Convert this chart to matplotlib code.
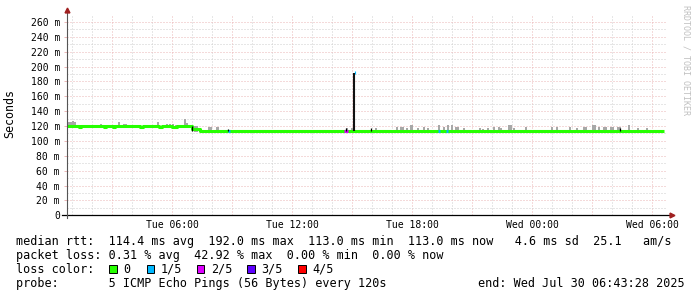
import matplotlib
matplotlib.use("Agg")
import matplotlib.pyplot as plt
from matplotlib.patches import Rectangle
import numpy as np

# time axis: hours since Tue 00:00, values in ms
median_hours = [0.75, 1.35, 1.45, 2.6, 2.7, 3.05, 3.15, 4.4, 4.55, 5.35, 5.5,
                6.0, 6.25, 7.0, 7.4, 30.6]
median_ms = [119.5, 118.3, 119.5, 118.3, 119.5, 118.3, 119.5, 118.3, 119.5, 118.3, 119.5,
             118.3, 119.5, 115.5, 113.0, 113.0]

smoke_hours = [0.85, 0.95, 1.05, 1.15, 1.25, 2.45, 2.55, 3.18, 3.35, 3.6, 3.7, 4.25,
               4.35, 5.3, 5.6, 5.75, 5.9, 6.05, 6.2, 6.65, 6.75,
               7.15, 7.25, 7.45, 7.85, 7.95, 8.25, 8.3, 14.75, 15.0, 16.2, 17.25,
               17.45, 17.55, 17.75, 17.95, 18.0, 18.3, 18.6, 18.8, 19.35, 19.6,
               19.8, 20.0, 20.2, 20.3, 20.6, 21.4, 21.55, 21.8, 22.1, 22.35, 22.45,
               22.85, 22.95, 23.1, 23.7, 25.0, 25.25, 25.9, 26.25, 26.6, 26.7,
               27.05, 27.15, 27.35, 27.6, 27.7, 27.95, 28.05, 28.3, 28.4, 28.85,
               29.3, 29.75]
smoke_top_ms = [126, 125, 127, 126, 122, 123, 122, 121.5, 125.5, 123, 123, 121,
                121.5, 125.5, 122, 123, 122.5, 123, 122, 129.5, 124,
                120.5, 120.5, 116, 119, 119, 118.5, 118.5, 117, 117, 117, 118.4,
                119, 119, 117, 121.4, 121, 117, 119, 117, 121.4, 119,
                121.4, 121.4, 119, 119, 117, 117, 116, 117, 119, 118.4, 117,
                121.4, 121.4, 117, 119, 119, 119, 118.4, 117, 118.4, 118.4,
                121.4, 121, 119, 119, 119, 119, 119, 119, 119, 121.4,
                117, 117]

loss_hours = [8.85, 14.68, 14.76, 19.35, 19.75]
loss_level = [1, 2, 2, 1, 1]

black_hours = [7.0, 8.8, 14.72, 15.95, 28.4]
black_top_ms = [119.5, 116, 117, 118, 117]

spike_hour = 15.1
spike_ms = 192.0

loss_labels = ["0", "1/5", "2/5", "3/5", "4/5"]
loss_colors = ["#26ff00", "#00b8ff", "#dd00ff", "#5e00ff", "#ff0000"]

tick_hours = [6, 12, 18, 24, 30]
tick_labels = ["Tue 06:00", "Tue 12:00", "Tue 18:00", "Wed 00:00", "Wed 06:00"]
y_ticks = list(range(0, 261, 20))

W, H = 697, 297
mono = "DejaVu Sans Mono"

fig = plt.figure(figsize=(W / 100, H / 100), dpi=100)
fig.patch.set_facecolor("white")
ax = fig.add_axes([66.5 / W, (H - 215.3) / H, 600.5 / W, 200.8 / H])
ax.set_xlim(0.725, 30.75)
ax.set_ylim(0, 270)

# grid (red major, gray minor)
red_grid = "#ebb6b6"
gray_grid = "#cfcfcf"
for h in range(1, 31):
    c = red_grid if h % 3 == 0 else gray_grid
    ax.axvline(h, color=c, lw=0.72, ls=(0, (1, 2)), zorder=0)
for v in range(10, 270, 10):
    c = red_grid if v % 20 == 0 else gray_grid
    ax.axhline(v, color=c, lw=0.72, ls=(0, (1, 2)), zorder=0)

# smoke
smoke_h = np.array(smoke_hours)
base = np.where(smoke_h < 7.0, 118.5, 112.0)
ax.bar(smoke_h, np.array(smoke_top_ms) - base, bottom=base, width=0.1,
       color="#a8a8a8", linewidth=0, zorder=2)

# median line
ax.plot(median_hours, median_ms, drawstyle="steps-post", color=loss_colors[0],
        lw=2.2, solid_capstyle="butt", zorder=3)

# loss coloured pieces of the median
for h, lv in zip(loss_hours, loss_level):
    ax.hlines(113.0, h - 0.06, h + 0.06, color=loss_colors[lv], lw=2.2, zorder=4)

ax.vlines(black_hours, 113.0, black_top_ms, color="black", lw=0.9, zorder=4)
ax.vlines(spike_hour, 113.0, spike_ms, color="#111111", lw=1.5, zorder=4)
ax.vlines(spike_hour + 0.04, spike_ms - 2, spike_ms + 1.5, color=loss_colors[1], lw=0.8, zorder=5)

# axes lines and arrows
for s in ax.spines.values():
    s.set_visible(False)
ax.plot([-0.0075, 1.008], [0, 0], transform=ax.transAxes, color="black",
        lw=0.9, clip_on=False, zorder=6)
ax.plot([0, 0], [-0.013, 1.02], transform=ax.transAxes, color="#555555",
        lw=0.8, clip_on=False, zorder=6)
ax.plot([1.009], [0], transform=ax.transAxes, marker=">", ms=3.5,
        color="#a02020", clip_on=False, zorder=7)
ax.plot([0], [1.022], transform=ax.transAxes, marker="^", ms=3.5,
        color="#a02020", clip_on=False, zorder=7)

ax.set_xticks(tick_hours, tick_labels)
ax.set_yticks(y_ticks, ["0"] + [f"{v} m" for v in y_ticks[1:]])
ax.tick_params(axis="x", length=0, pad=3.5, labelsize=7.05)
ax.tick_params(axis="y", length=2.5, width=0.7, color=red_grid, pad=2.2, labelsize=7.05)
for lab in ax.get_xticklabels() + ax.get_yticklabels():
    lab.set_family(mono)

fig.text(10 / W, 1 - 114 / H, "Seconds", rotation=90, ha="center", va="center",
         family=mono, fontsize=8.4)
fig.text(686 / W, 1 - 5 / H, "RRDTOOL / TOBI OETIKER", rotation=270, ha="center",
         va="top", family=mono, fontsize=6, color="#c0c0c0")

# legend rows
fs = 8.45
row1 = "median rtt:  114.4 ms avg  192.0 ms max  113.0 ms min  113.0 ms now   4.6 ms sd  25.1   am/s"
row2 = "packet loss: 0.31 % avg  42.92 % max  0.00 % min  0.00 % now"
fig.text(16 / W, 1 - 241.7 / H, row1, family=mono, fontsize=fs, va="center")
fig.text(16 / W, 1 - 255.5 / H, row2, family=mono, fontsize=fs, va="center")
fig.text(16 / W, 1 - 269.3 / H, "loss color:", family=mono, fontsize=fs, va="center")
box_x = [109, 146.7, 196.7, 247, 298]
for bx, lab, col in zip(box_x, loss_labels, loss_colors):
    fig.patches.append(Rectangle((bx / W, (H - 273.3) / H), 7.5 / W, 8 / H,
                                 transform=fig.transFigure, facecolor=col,
                                 edgecolor="black", lw=0.7))
    fig.text((bx + 14) / W, 1 - 269.3 / H, lab, family=mono, fontsize=fs, va="center")
fig.text(16 / W, 1 - 283.3 / H, "probe:       5 ICMP Echo Pings (56 Bytes) every 120s",
         family=mono, fontsize=fs, va="center")
fig.text(478 / W, 1 - 283.3 / H, "end: Wed Jul 30 06:43:28 2025",
         family=mono, fontsize=fs, va="center")

fig.savefig("out.png", dpi=100)
